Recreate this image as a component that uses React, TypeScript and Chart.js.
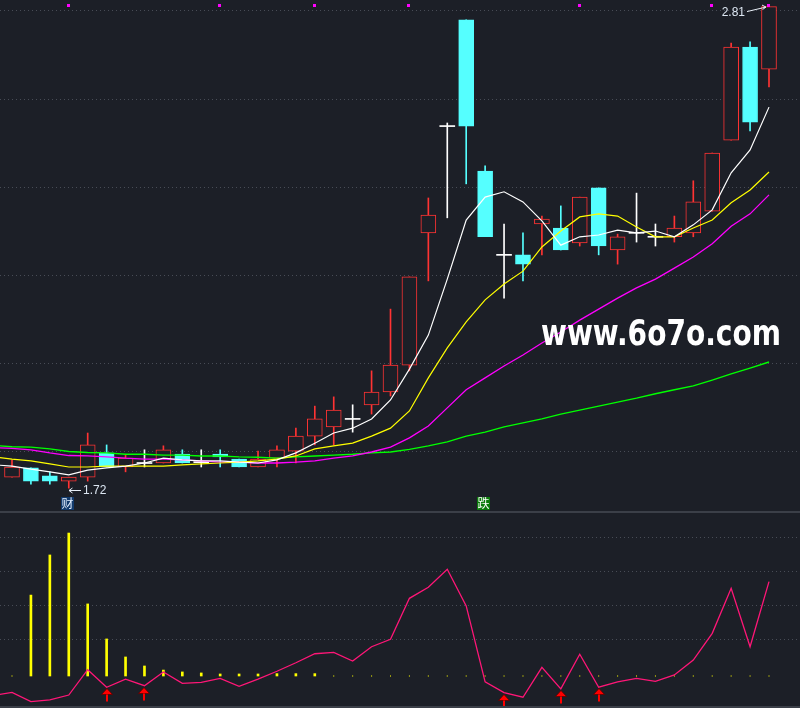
import React, { useEffect, useRef } from 'react';
import { Chart, registerables } from 'chart.js';

Chart.register(...registerables);

// ---------------- data ----------------
const openPrices = [
  1.743, 1.764, 1.746, 1.734, 1.743, 1.798, 1.766, 1.775, 1.775, 1.795,
  1.777, 1.795, 1.784, 1.766, 1.786, 1.802, 1.836, 1.857, 1.875, 1.907,
  1.936, 1.997, 2.297, 2.539, 2.780, 2.437, 2.247, 2.247, 2.317, 2.308,
  2.274, 2.399, 2.258, 2.297, 2.288, 2.288, 2.297, 2.346, 2.507, 2.718,
  2.668,
];
const highPrices = [
  1.782, 1.764, 1.755, 1.743, 1.843, 1.816, 1.793, 1.805, 1.814, 1.805,
  1.805, 1.805, 1.784, 1.802, 1.814, 1.854, 1.904, 1.925, 1.907, 1.984,
  2.124, 2.197, 2.376, 2.546, 2.780, 2.449, 2.317, 2.297, 2.335, 2.358,
  2.378, 2.399, 2.294, 2.387, 2.317, 2.335, 2.415, 2.478, 2.727, 2.730,
  2.810,
];
const lowPrices = [
  1.743, 1.727, 1.727, 1.718, 1.734, 1.766, 1.755, 1.766, 1.775, 1.775,
  1.766, 1.766, 1.766, 1.766, 1.766, 1.775, 1.816, 1.816, 1.845, 1.886,
  1.927, 1.984, 2.188, 2.331, 2.408, 2.288, 2.149, 2.188, 2.247, 2.258,
  2.267, 2.247, 2.226, 2.276, 2.267, 2.276, 2.288, 2.346, 2.507, 2.528,
  2.628,
];
const closePrices = [
  1.766, 1.734, 1.734, 1.743, 1.816, 1.766, 1.786, 1.775, 1.805, 1.775,
  1.777, 1.789, 1.766, 1.784, 1.805, 1.836, 1.875, 1.895, 1.875, 1.936,
  1.997, 2.197, 2.337, 2.539, 2.539, 2.288, 2.247, 2.226, 2.328, 2.258,
  2.378, 2.267, 2.288, 2.297, 2.288, 2.308, 2.367, 2.478, 2.718, 2.548,
  2.810,
];

// moving averages: first value belongs to the session just before the first visible candle
const ma5 = [
  1.771, 1.768, 1.761, 1.755, 1.748, 1.759, 1.764, 1.768, 1.775, 1.786,
  1.782, 1.780, 1.780, 1.777, 1.775, 1.782, 1.798, 1.820, 1.843, 1.854,
  1.875, 1.918, 1.988, 2.065, 2.192, 2.326, 2.378, 2.390, 2.367, 2.324,
  2.269, 2.288, 2.292, 2.303, 2.297, 2.301, 2.288, 2.315, 2.349, 2.433,
  2.485, 2.582,
];
const ma10 = [
  1.789, 1.784, 1.780, 1.773, 1.766, 1.766, 1.768, 1.768, 1.768, 1.768,
  1.771, 1.773, 1.775, 1.777, 1.780, 1.784, 1.791, 1.807, 1.814, 1.820,
  1.836, 1.854, 1.893, 1.968, 2.036, 2.095, 2.145, 2.181, 2.210, 2.265,
  2.301, 2.333, 2.340, 2.335, 2.310, 2.288, 2.288, 2.308, 2.326, 2.365,
  2.394, 2.435,
];
const ma20 = [
  1.810, 1.808, 1.805, 1.798, 1.792, 1.791, 1.789, 1.786, 1.784, 1.784,
  1.782, 1.780, 1.777, 1.777, 1.775, 1.775, 1.777, 1.780, 1.786, 1.791,
  1.800, 1.811, 1.832, 1.859, 1.900, 1.941, 1.968, 1.995, 2.020, 2.047,
  2.072, 2.099, 2.124, 2.149, 2.172, 2.192, 2.217, 2.242, 2.272, 2.312,
  2.340, 2.383,
];
const ma60 = [
  1.815, 1.812, 1.811, 1.807, 1.801, 1.799, 1.798, 1.795, 1.795, 1.793,
  1.793, 1.791, 1.791, 1.789, 1.788, 1.786, 1.789, 1.791, 1.793, 1.795,
  1.798, 1.800, 1.806, 1.814, 1.823, 1.836, 1.845, 1.857, 1.866, 1.875,
  1.886, 1.895, 1.904, 1.913, 1.922, 1.932, 1.941, 1.950, 1.963, 1.977,
  1.990, 2.004,
];

const priceGridLines = [1.8, 2.0, 2.2, 2.4, 2.6, 2.8];
const topMarkerIdx = [3, 11, 16, 21, 30, 37, 40];
const eventIdx = [3, 25];
const eventText = ['财', '跌'];

// lower indicator panel
const stickValues = [
  0, 47.6, 71.2, 84.1, 42.4, 21.8, 11.2, 5.9, 3.5, 2.4,
  1.8, 1.2, 1.2, 1.2, 1.4, 1.4, 1.4, 0, 0, 0,
  0, 0, 0, 0, 0, 0, 0, 0, 0, 0,
  0, 0, 0, 0, 0, 0, 0, 0, 0, 0,
  0,
];
// first value belongs to the session before the first visible candle
const signalLine = [
  -11.5, -9.6, -15.1, -14.1, -11.2, 3.7, -6.6, -1.9, -5.7, 2.4,
  -4.3, -3.7, -1.4, -6.1, -1.8, 2.8, 7.8, 13.1, 13.9, 8.8,
  17.2, 21.6, 45.7, 52.2, 62.8, 41.2, -3.4, -9.8, -12.5, 5.1,
  -7.6, 12.8, -6.6, -3.4, -1.4, -3.1, 0.6, 9.4, 25.1, 51.6,
  17.2, 55.5,
];
const buySignalIdx = [5, 7, 26, 29, 31];
const lowerGridValues = [21.2, 41.2, 61.2, 81.2];

// ---------------- styling ----------------
const BG = '#1c1f27';
const RED = '#ff3333';
const CYAN = '#55ffff';
const GRID = '#484c56';
const X_MIN = -0.634;
const X_MAX = 41.638;
const PRICE_MIN = 1.6662;
const PRICE_MAX = 2.8249;
const LOW_MIN = -18.82;
const LOW_MAX = 97.06;
const eventStyles: Record<string, { bg: string; fg: string }> = {
  '财': { bg: '#123a6c', fg: '#e2eeff' },
  '跌': { bg: '#0a7a0a', fg: '#ffffff' },
};

const makeXScale = () => ({
  type: 'linear',
  min: X_MIN,
  max: X_MAX,
  offset: false,
  display: false,
  grid: { offset: false },
});

export default function App() {
  const mainRef = useRef<HTMLCanvasElement>(null);
  const lowRef = useRef<HTMLCanvasElement>(null);

  useEffect(() => {
    document.body.style.margin = '0';
    document.body.style.background = BG;
    const idx = openPrices.map((_, i) => i);
    const isDoji = (i: number) => closePrices[i] === openPrices[i];
    const isUp = (i: number) => closePrices[i] > openPrices[i];
    const colorOf = (i: number) => (isDoji(i) ? '#ffffff' : isUp(i) ? RED : CYAN);

    const bodies = idx.map((i) => {
      const o = openPrices[i];
      const c = closePrices[i];
      if (o === c) return { x: i, y: [o - 0.00115, o + 0.00115] };
      return { x: i, y: [Math.min(o, c), Math.max(o, c)] };
    });
    const wicks = idx.map((i) => ({ x: i, y: [lowPrices[i], highPrices[i]] }));
    const maPts = (arr: number[]) => arr.map((v, k) => ({ x: k - 1, y: v }));

    const mainPlugin = {
      id: 'mainDeco',
      beforeDraw(chart: any) {
        const { ctx, width, height } = chart;
        ctx.save();
        ctx.fillStyle = BG;
        ctx.fillRect(0, 0, width, height);
        ctx.restore();
      },
      afterDatasetsDraw(chart: any) {
        const { ctx, chartArea } = chart;
        const xs = chart.scales.x;
        const ys = chart.scales.y;
        ctx.save();
        // top markers
        ctx.fillStyle = '#ff00ff';
        topMarkerIdx.forEach((i) => {
          const px = Math.round(xs.getPixelForValue(i));
          ctx.fillRect(px - 2, chartArea.top + 4, 3, 3);
        });
        // lowest low label
        const lo = Math.min(...lowPrices);
        const li = lowPrices.indexOf(lo);
        const lx = Math.round(xs.getPixelForValue(li));
        const ly = Math.round(ys.getPixelForValue(lo)) + 2.5;
        ctx.strokeStyle = '#e8eef6';
        ctx.lineWidth = 1;
        ctx.beginPath();
        ctx.moveTo(lx, ly);
        ctx.lineTo(lx + 12, ly);
        ctx.moveTo(lx + 3.5, ly - 2.5);
        ctx.lineTo(lx, ly);
        ctx.lineTo(lx + 3.5, ly + 2.5);
        ctx.stroke();
        ctx.fillStyle = '#dce6f2';
        ctx.font = '12px "Liberation Sans", Arial, sans-serif';
        ctx.textAlign = 'left';
        ctx.textBaseline = 'middle';
        ctx.fillText(lo.toFixed(2), lx + 14, ly + 0.5);
        // highest high label
        const hi = Math.max(...highPrices);
        const hiI = highPrices.indexOf(hi);
        const hx = xs.getPixelForValue(hiI);
        const hy = ys.getPixelForValue(hi);
        ctx.beginPath();
        ctx.moveTo(hx - 22, hy + 5);
        ctx.lineTo(hx - 3, hy + 0.5);
        ctx.moveTo(hx - 7, hy - 1.5);
        ctx.lineTo(hx - 3, hy + 0.5);
        ctx.lineTo(hx - 6.5, hy + 3);
        ctx.stroke();
        ctx.textAlign = 'right';
        ctx.fillText(hi.toFixed(2), hx - 24, hy + 6);
        // event labels under the candles
        ctx.font = '12px "Noto Sans CJK SC", sans-serif';
        ctx.textAlign = 'center';
        eventIdx.forEach((i, k) => {
          const t = eventText[k];
          const st = eventStyles[t];
          const cx = Math.round(xs.getPixelForValue(i)) - 1;
          const top = chartArea.bottom - 14;
          ctx.fillStyle = st.bg;
          ctx.fillRect(cx - 7, top, 13, 13);
          ctx.fillStyle = st.fg;
          ctx.fillText(t, cx - 0.5, top + 6.5);
        });
        ctx.restore();
      },
      afterDraw(chart: any) {
        const { ctx, chartArea } = chart;
        ctx.save();
        ctx.font = 'bold 36px "DejaVu Sans", sans-serif';
        ctx.textBaseline = 'alphabetic';
        ctx.textAlign = 'left';
        const text = 'www.6o7o.com';
        const w = ctx.measureText(text).width;
        ctx.translate(chartArea.right - 259, 345);
        ctx.scale(240 / w, 1);
        ctx.fillStyle = '#ffffff';
        ctx.fillText(text, 0, 0);
        ctx.restore();
      },
    };

    const mainChart = new Chart(mainRef.current as HTMLCanvasElement, {
      type: 'bar',
      data: {
        datasets: [
          { type: 'line', data: maPts(ma5), borderColor: '#ffffff', borderWidth: 1.2, pointRadius: 0, order: 0 } as any,
          { type: 'line', data: maPts(ma10), borderColor: '#ffff00', borderWidth: 1.2, pointRadius: 0, order: 0 } as any,
          { type: 'line', data: maPts(ma20), borderColor: '#ff00ff', borderWidth: 1.3, pointRadius: 0, order: 0 } as any,
          { type: 'line', data: maPts(ma60), borderColor: '#00ff00', borderWidth: 1.4, pointRadius: 0, order: 0 } as any,
          {
            type: 'bar',
            data: bodies,
            grouped: false,
            barThickness: 15,
            maxBarThickness: 15,
            borderSkipped: false,
            backgroundColor: idx.map((i) => (isDoji(i) ? '#ffffff' : isUp(i) ? BG : CYAN)),
            borderColor: idx.map((i) => colorOf(i)),
            borderWidth: idx.map((i) => (isDoji(i) ? 0 : 1)),
            order: 1,
          } as any,
          {
            type: 'bar',
            data: wicks,
            grouped: false,
            barThickness: 1,
            maxBarThickness: 1,
            borderSkipped: false,
            backgroundColor: idx.map((i) => colorOf(i)),
            borderWidth: 0,
            order: 2,
          } as any,
        ],
      },
      options: {
        animation: false,
        responsive: false,
        devicePixelRatio: 1,
        events: [],
        layout: { padding: 0, autoPadding: false },
        plugins: { legend: { display: false }, tooltip: { enabled: false } },
        scales: {
          x: makeXScale(),
          y: {
            type: 'linear',
            min: PRICE_MIN,
            max: PRICE_MAX,
            afterBuildTicks: (s: any) => {
              s.ticks = priceGridLines.map((v) => ({ value: v }));
            },
            ticks: { display: false },
            grid: { color: GRID, lineWidth: 1, drawTicks: false },
            border: { display: false, dash: [1, 3] },
          },
        },
      } as any,
      plugins: [mainPlugin],
    });

    const stickPts = stickValues.map((v, i) => ({ x: i, y: v })).filter((p) => p.y !== 0);
    const zeroPts = stickValues.map((v, i) => ({ x: i, y: v })).filter((p) => p.y === 0);

    const lowPlugin = {
      id: 'lowDeco',
      beforeDraw(chart: any) {
        const { ctx, width, height } = chart;
        ctx.save();
        ctx.fillStyle = BG;
        ctx.fillRect(0, 0, width, height);
        ctx.restore();
      },
      afterDatasetsDraw(chart: any) {
        const { ctx } = chart;
        const xs = chart.scales.x;
        const ys = chart.scales.y;
        ctx.save();
        buySignalIdx.forEach((i) => {
          const px = Math.round(xs.getPixelForValue(i));
          const tip = Math.round(ys.getPixelForValue(signalLine[i + 1])) + 1.5;
          ctx.fillStyle = '#ff0000';
          ctx.strokeStyle = '#600000';
          ctx.lineWidth = 0.8;
          ctx.beginPath();
          ctx.moveTo(px, tip);
          ctx.lineTo(px + 5.5, tip + 6);
          ctx.lineTo(px - 5.5, tip + 6);
          ctx.closePath();
          ctx.fill();
          ctx.stroke();
          ctx.fillRect(px - 1, tip + 6, 2, 7);
        });
        ctx.restore();
      },
      afterDraw(chart: any) {
        const { ctx, width, height } = chart;
        ctx.save();
        ctx.fillStyle = '#3b3f48';
        ctx.fillRect(0, 0, width, 2);
        ctx.fillRect(0, height - 2, width, 2);
        ctx.restore();
      },
    };

    const lowChart = new Chart(lowRef.current as HTMLCanvasElement, {
      type: 'bar',
      data: {
        datasets: [
          {
            type: 'line',
            data: signalLine.map((v, k) => ({ x: k - 1, y: v })),
            borderColor: '#ff1677',
            borderWidth: 1.3,
            pointRadius: 0,
            order: 0,
          } as any,
          {
            type: 'line',
            data: zeroPts,
            showLine: false,
            borderWidth: 0,
            pointStyle: 'rect',
            pointRadius: 0.75,
            pointBorderWidth: 0,
            pointBackgroundColor: '#ffff00',
            order: 1,
          } as any,
          {
            type: 'bar',
            data: stickPts,
            grouped: false,
            barThickness: 2,
            maxBarThickness: 2,
            backgroundColor: '#ffff00',
            borderWidth: 0,
            order: 2,
          } as any,
        ],
      },
      options: {
        animation: false,
        responsive: false,
        devicePixelRatio: 1,
        events: [],
        layout: { padding: 0, autoPadding: false },
        plugins: { legend: { display: false }, tooltip: { enabled: false } },
        scales: {
          x: makeXScale(),
          y: {
            type: 'linear',
            min: LOW_MIN,
            max: LOW_MAX,
            afterBuildTicks: (s: any) => {
              s.ticks = lowerGridValues.map((v) => ({ value: v }));
            },
            ticks: { display: false },
            grid: { color: GRID, lineWidth: 1, drawTicks: false },
            border: { display: false, dash: [1, 3] },
          },
        },
      } as any,
      plugins: [lowPlugin],
    });

    return () => {
      mainChart.destroy();
      lowChart.destroy();
    };
  }, []);

  return (
    <div style={{ width: 800, height: 708, background: BG }}>
      <canvas ref={mainRef} width={800} height={511} style={{ display: 'block', width: 800, height: 511 }} />
      <canvas ref={lowRef} width={800} height={197} style={{ display: 'block', width: 800, height: 197 }} />
    </div>
  );
}
